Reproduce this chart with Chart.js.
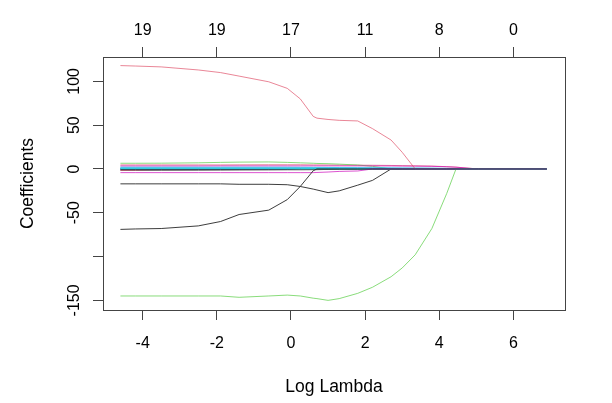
<!DOCTYPE html>
<html>
<head>
<meta charset="utf-8">
<script src="https://cdn.jsdelivr.net/npm/chart.js@4.4.1/dist/chart.umd.min.js"></script>
<style>
  html, body { margin: 0; padding: 0; background: #fff; }
  #wrap { width: 612px; height: 403px; position: relative; }
</style>
</head>
<body>
<div id="wrap"><canvas id="pathChart"></canvas></div>
<script>
// Log lambda grid shared by every coefficient path
const logLambda = [-4.6, -4.2, -3.5, -2.5, -1.9, -1.4, -0.6, -0.1, 0.25, 0.6, 0.7, 1.0, 1.3, 1.8, 2.2, 2.7, 3.0, 3.35, 3.8, 4.2, 4.45, 4.8, 5.05, 6.9];

// tick labels
const xTicks = [-4, -2, 0, 2, 4, 6];
const dfLabels = ['19', '19', '17', '11', '8', '0'];
const yTicks = [-150, -100, -50, 0, 50, 100];

// coefficient paths, in variable order (matplot colours cycle 1:6)
const coefAtBat     = [-1.5, -1.5, -1.4, -1.3, -1.2, -1.1, -1.0, -0.9, -0.9, -0.8, -0.8, -0.5, 0, 0, 0, 0, 0, 0, 0, 0, 0, 0, 0, 0];
const coefHits      = [4.6, 4.6, 4.6, 4.6, 4.6, 4.7, 4.8, 4.8, 4.8, 4.6, 4.6, 4.5, 4.4, 4.3, 4.2, 4.0, 3.8, 3.6, 3.3, 2.6, 2.1, 0.8, 0, 0];
const coefHmRun     = [6.5, 6.5, 6.6, 7.0, 7.5, 7.8, 8.0, 7.5, 7.0, 6.5, 6.3, 6.0, 5.5, 4.5, 3.0, 0, 0, 0, 0, 0, 0, 0, 0, 0];
const coefRuns      = [-0.3, -0.3, -0.3, -0.3, -0.3, -0.3, -0.3, -0.3, -0.2, -0.1, 0, 0, 0, 0, 0, 0, 0, 0, 0, 0, 0, 0, 0, 0];
const coefRBI       = [0.8, 0.8, 0.8, 0.8, 0.8, 0.8, 0.8, 0.8, 0.7, 0.6, 0.6, 0.5, 0.5, 0.4, 0.3, 0.2, 0, 0, 0, 0, 0, 0, 0, 0];
const coefWalks     = [3.4, 3.4, 3.4, 3.4, 3.5, 3.5, 3.5, 3.5, 3.5, 3.5, 3.5, 3.5, 3.5, 3.5, 3.5, 3.4, 3.3, 3.2, 3.0, 2.5, 2.0, 0.8, 0, 0];
const coefYears     = [-17, -17, -17, -17, -17, -17.5, -17.5, -18, -20, -23, -24, -27, -25, -18.5, -13, 0, 0, 0, 0, 0, 0, 0, 0, 0];
const coefCAtBat    = [-1.5, -1.2, -0.3, -0.3, -0.2, -0.2, -0.2, 0, 0, 0, 0, 0, 0, 0, 0, 0, 0, 0, 0, 0, 0, 0, 0, 0];
const coefCHits     = [0.3, 0.3, 0.3, 0.3, 0.2, 0.2, 0, 0, 0, 0, 0, 0, 0, 0, 0, 0, 0, 0, 0, 0, 0, 0, 0, 0];
const coefCHmRun    = [2.0, 2.0, 2.0, 2.0, 2.0, 2.0, 2.0, 2.0, 1.9, 1.8, 1.8, 1.7, 1.6, 1.5, 1.4, 1.2, 1.1, 1.0, 0.9, 0.7, 0.5, 0.2, 0, 0];
const coefCRuns     = [1.2, 1.2, 1.2, 1.2, 1.2, 1.2, 1.2, 1.2, 1.2, 1.2, 1.2, 1.1, 1.1, 1.0, 1.0, 0.9, 0.8, 0.8, 0.6, 0.5, 0.4, 0.2, 0, 0];
const coefCRBI      = [0.6, 0.6, 0.6, 0.6, 0.6, 0.6, 0.6, 0.6, 0.6, 0.5, 0.5, 0.5, 0.5, 0.5, 0.5, 0.5, 0.4, 0.4, 0.4, 0.3, 0.3, 0.1, 0, 0];
const coefCWalks    = [-0.6, -0.6, -0.6, -0.6, -0.6, -0.6, -0.5, -0.4, 0, 0, 0, 0, 0, 0, 0, 0, 0, 0, 0, 0, 0, 0, 0, 0];
const coefLeague    = [118, 117.5, 116.5, 113, 110, 106, 99.5, 92, 80, 60, 58, 56.5, 55.5, 54.8, 46, 33, 19, 0, 0, 0, 0, 0, 0, 0];
const coefDivision  = [-145, -145, -145, -145, -145, -146.5, -145, -144, -145, -147.5, -148, -150, -148, -142, -135, -123, -113, -98, -68, -28, 0, 0, 0, 0];
const coefPutOuts   = [0.3, 0.3, 0.3, 0.3, 0.3, 0.3, 0.3, 0.3, 0.3, 0.3, 0.3, 0.3, 0.3, 0.3, 0.3, 0.3, 0.3, 0.2, 0.2, 0.1, 0, 0, 0, 0];
const coefAssists   = [0.4, 0.4, 0.4, 0.4, 0.4, 0.4, 0.4, 0.4, 0.4, 0.4, 0.4, 0.4, 0.3, 0.2, 0, 0, 0, 0, 0, 0, 0, 0, 0, 0];
const coefErrors    = [-4.2, -4.2, -4.2, -4.2, -4.2, -4.2, -4.2, -4.2, -4.2, -4.2, -4.0, -3.5, -2.8, -2.3, 0, 0, 0, 0, 0, 0, 0, 0, 0, 0];
const coefNewLeague = [-69, -68.5, -68, -65, -60, -52, -47, -35, -20, -2, 0, 0, 0, 0, 0, 0, 0, 0, 0, 0, 0, 0, 0, 0];

const paths = [coefAtBat, coefHits, coefHmRun, coefRuns, coefRBI, coefWalks, coefYears,
    coefCAtBat, coefCHits, coefCHmRun, coefCRuns, coefCRBI, coefCWalks, coefLeague,
    coefDivision, coefPutOuts, coefAssists, coefErrors, coefNewLeague];
// R palette 1:6, softened a little to look like the anti-aliased original
const palette = ['rgba(40,40,40,0.9)', 'rgba(223,83,107,0.7)', 'rgba(97,208,79,0.75)',
    'rgba(34,151,230,0.8)', 'rgba(40,226,229,0.85)', 'rgba(205,11,188,0.7)'];

const tickFont = { family: "'Liberation Sans', Arial, sans-serif", size: 16 };
const titleFont = { family: "'Liberation Sans', Arial, sans-serif", size: 17.5 };

// chart.js draws dataset 0 on top, R draws the last column on top -> reverse
const datasets = paths.map((vals, i) => ({
    data: logLambda.map((x, j) => ({ x: x, y: vals[j] })),
    borderColor: palette[i % 6],
    borderWidth: 1,
    pointRadius: 0,
    tension: 0,
    fill: false
})).reverse();

// plot frame
const boxPlugin = {
    id: 'box',
    afterDatasetsDraw(chart) {
        const a = chart.chartArea;
        const ctx = chart.ctx;
        ctx.save();
        ctx.strokeStyle = '#444';
        ctx.lineWidth = 1;
        ctx.strokeRect(Math.round(a.left) + 0.5, Math.round(a.top) + 0.5,
            Math.round(a.right - a.left), Math.round(a.bottom - a.top));
        ctx.restore();
    }
};

const axisGrid = { drawOnChartArea: false, tickLength: 10, color: '#444', lineWidth: 1 };

const pathChart = new Chart(document.getElementById('pathChart').getContext('2d'), {
    type: 'line',
    data: { datasets: datasets },
    options: {
        responsive: true,
        maintainAspectRatio: false,
        animation: false,
        events: [],
        layout: { padding: { left: 0, right: 47, top: 0, bottom: 0 } },
        plugins: {
            legend: { display: false },
            tooltip: { enabled: false }
        },
        scales: {
            x: {
                type: 'linear',
                position: 'bottom',
                min: -5.07,
                max: 7.39,
                afterFit: s => { s.height = 93; },
                afterBuildTicks: s => { s.ticks = xTicks.map(v => ({ value: v })); },
                ticks: { autoSkip: false, maxRotation: 0, padding: 14, font: tickFont, color: '#000' },
                grid: axisGrid,
                border: { display: false },
                title: { display: true, text: 'Log Lambda', font: titleFont, color: '#000', padding: { top: 0, bottom: 5 } }
            },
            xTop: {
                type: 'linear',
                axis: 'x',
                position: 'top',
                min: -5.07,
                max: 7.39,
                afterFit: s => { s.height = 57; },
                afterBuildTicks: s => { s.ticks = xTicks.map(v => ({ value: v })); },
                ticks: {
                    autoSkip: false, maxRotation: 0, padding: 7, font: tickFont, color: '#000',
                    callback: (v, i) => dfLabels[i]
                },
                grid: axisGrid,
                border: { display: false }
            },
            y: {
                type: 'linear',
                position: 'left',
                min: -161,
                max: 127.8,
                afterFit: s => { s.width = 103; },
                afterBuildTicks: s => { s.ticks = yTicks.map(v => ({ value: v })); },
                ticks: {
                    autoSkip: false, minRotation: 90, maxRotation: 90, crossAlign: 'center',
                    padding: 2, font: tickFont, color: '#000',
                    callback: v => (v === -100 ? '' : String(v))
                },
                grid: axisGrid,
                border: { display: false },
                title: { display: true, text: 'Coefficients', font: titleFont, color: '#000', padding: { top: 18, bottom: 0 } }
            }
        }
    },
    plugins: [boxPlugin]
});
</script>
</body>
</html>
